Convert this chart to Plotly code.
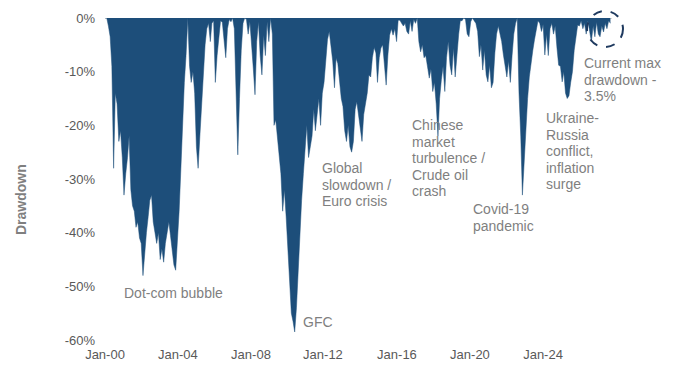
import pandas as pd
import plotly.graph_objects as go

# Monthly drawdown (%), Jan 2000 onwards
dd_2000 = [0, 0, -1.5, -3.5, -9, -28, -14, -16, -23, -21, -26, -33]
dd_2001 = [-29, -26, -22, -32, -35, -36, -39, -38, -41, -42, -48, -43]
dd_2002 = [-40, -37, -34, -33, -38, -40, -42, -40, -45, -43, -45.5, -42]
dd_2003 = [-40, -38, -40.5, -43, -46, -47, -42, -36, -28, -18, -12, -7]
dd_2004 = [0, -9, -12, -10, -14, -24, -28, -22, -16, -11, -5, -2]
dd_2005 = [-1, -4.4, -1, -0.5, -12, -7, -3, -0.5, -0.8, -4, -7.4, -2]
dd_2006 = [-0.3, -0.7, 0, -2, -12, -25.5, -15, -6, -1, 0, -0.3, -3]
dd_2007 = [-0.7, -4.4, -9.3, -14.3, -4.4, -0.7, -7, -10.6, -3.2, -7, -0.7, -4.4]
dd_2008 = [0, -3, -20, -19, -22, -25.5, -29, -36, -32, -37, -43, -50]
dd_2009 = [-55, -56.6, -58.5, -54, -46.5, -40, -34, -29, -25, -20, -26, -24]
dd_2010 = [-22, -17, -21, -18, -15, -20, -14, -12, -8, -4, -2.5, -5]
dd_2011 = [-8, -13, -7.5, -8.5, -12, -15, -16.5, -21, -23, -20, -24, -25]
dd_2012 = [-23, -17, -15.6, -18, -20, -23, -18, -16, -14, -10.6, -11, -7.4]
dd_2013 = [-5.5, -6.5, -12, -7.4, -5.6, -5, -8.5, -12.5, -6.9, -3.2, -2, -3.2]
dd_2014 = [-2, -4.4, -0.4, -0.4, -1, -1.5, -1, -2.5, -3, -0.5, -2.5, -0.3]
dd_2015 = [-1, 0, -4.4, -6.3, -5, -7.4, -7, -8.8, -11.2, -9.5, -13.7, -12]
dd_2016 = [-16, -22, -15, -11.5, -9, -13.7, -7.4, -4.4, -8.8, -10.6, -5.6, -11]
dd_2017 = [-6, -3, -0.5, -0.5, 0, -0.3, -3, -3.5, -0.7, 0, -0.5, -1]
dd_2018 = [-2.5, -7.2, -5, -9.7, -6, -10.6, -11.9, -8.8, -13, -12, -6.5, -3]
dd_2019 = [-1.5, -3, -4.4, -6.9, -8.8, -11, -8, -12, -7, -3, -1, 0]
dd_2020 = [-14, -22, -33, -26, -20, -15, -11, -8, -6, -4, -2, -0.5]
dd_2021 = [-1, -2.5, -1.2, -6.9, -3, -7, -2, -1, -3, -1.5, -5.6, -8.8]
dd_2022 = [-9, -11.9, -10, -14, -15, -14.5, -12, -10, -6, -3.5, -1.3, -1.5]
dd_2023 = [-0.5, -2, -1, -3, -0.5, -2.5, -4.4, -1.5, -3.5, -0.8, -3, -3.5]
dd_2024 = [-1.5, -2.6, -1, -2, -0.5, -1]

drawdown_pct = (dd_2000 + dd_2001 + dd_2002 + dd_2003 + dd_2004 + dd_2005 + dd_2006
                + dd_2007 + dd_2008 + dd_2009 + dd_2010 + dd_2011 + dd_2012 + dd_2013
                + dd_2014 + dd_2015 + dd_2016 + dd_2017 + dd_2018 + dd_2019 + dd_2020
                + dd_2021 + dd_2022 + dd_2023 + dd_2024)
dates = pd.date_range("2000-01-01", periods=len(drawdown_pct), freq="MS")

y_tick_vals = [0, -0.1, -0.2, -0.3, -0.4, -0.5, -0.6]
y_tick_text = ["0%", "-10%", "-20%", "-30%", "-40%", "-50%", "-60%"]
x_tick_text = ["Jan-00", "Jan-04", "Jan-08", "Jan-12", "Jan-16", "Jan-20", "Jan-24"]
x_tick_vals = ["2000-01-01", "2003-07-11", "2007-01-20", "2010-07-13",
               "2014-02-08", "2017-08-19", "2021-02-28"]

# event labels: lines of text, left edge (px), first-line centre (px)
event_lines = [
    ["Dot-com bubble"],
    ["GFC"],
    ["Global", "slowdown /", "Euro crisis"],
    ["Chinese", "market", "turbulence /", "Crude oil", "crash"],
    ["Covid-19", "pandemic"],
    ["Ukraine-", "Russia", "conflict,", "inflation", "surge"],
    ["Current max", "drawdown -", "3.5%"],
]
event_left_px = [122, 301, 320, 410, 471, 544, 582]
event_top_px = [293, 322, 168, 125, 209, 118, 63]
LINE_PX = 16.6

NAVY = "#1d4e7a"
FONT = "Liberation Sans, Arial, sans-serif"

L, T, W, H = 105, 18, 507, 322  # plot area in pixels


def px_to_paper(px, py):
    return (px - L) / W, (T + H - py) / H


fig = go.Figure()
fig.add_trace(go.Scatter(
    x=dates, y=[v / 100 for v in drawdown_pct],
    mode="lines", fill="tozeroy", fillcolor=NAVY,
    line=dict(color=NAVY, width=0.5), hoverinfo="skip", showlegend=False,
))

annotations = []
for lines, lx, ty in zip(event_lines, event_left_px, event_top_px):
    for i, line in enumerate(lines):
        xp, yp = px_to_paper(lx, ty + i * LINE_PX)
        annotations.append(dict(
            text=line, x=xp, y=yp, xref="paper", yref="paper",
            xanchor="left", yanchor="middle", align="left", showarrow=False,
            font=dict(family=FONT, size=14, color="#7f7f7f"),
        ))
tx, ty = px_to_paper(21, 200)
annotations.append(dict(
    text="<b>Drawdown</b>", x=tx, y=ty, xref="paper", yref="paper",
    xanchor="center", yanchor="middle", textangle=-90, showarrow=False,
    font=dict(family=FONT, size=14, color="#7f7f7f"),
))

cx0, cy0 = px_to_paper(587, 47)
cx1, cy1 = px_to_paper(623, 11)

fig.update_layout(
    width=678, height=365,
    margin=dict(l=L, r=678 - L - W, t=T, b=365 - T - H),
    paper_bgcolor="white", plot_bgcolor="white",
    font=dict(family=FONT, size=13, color="#595959"),
    annotations=annotations,
    shapes=[dict(
        type="circle", xref="paper", yref="paper",
        x0=cx0, x1=cx1, y0=cy0, y1=cy1,
        line=dict(color="#1f3a5f", width=2, dash="dash"),
    )],
    xaxis=dict(
        range=["2000-01-01", "2024-06-29"], showgrid=False, zeroline=False,
        showline=False, ticks="", tickvals=x_tick_vals, ticktext=x_tick_text,
        tickfont=dict(family=FONT, size=13, color="#595959"),
        ticklabelstandoff=5, automargin=False,
    ),
    yaxis=dict(
        range=[-0.6, 0], showgrid=False, zeroline=True, zerolinecolor="#d9d9d9",
        zerolinewidth=1, showline=False, ticks="",
        tickvals=y_tick_vals, ticktext=y_tick_text,
        tickfont=dict(family=FONT, size=13, color="#595959"),
        ticklabelstandoff=9, automargin=False,
    ),
)

fig.write_html("out.html")
